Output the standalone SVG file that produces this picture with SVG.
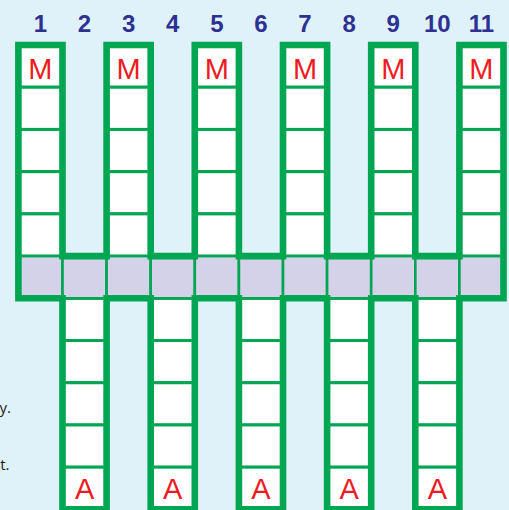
<svg xmlns="http://www.w3.org/2000/svg" width="509" height="510" viewBox="0 0 509 510">
<style>
.cell{fill:#ffffff;stroke:#00a651;stroke-width:3}
.mid{fill:#d3d2e8;stroke:#00a651;stroke-width:2.6}
.num{font-family:"Liberation Sans",Arial,sans-serif;font-weight:bold;font-size:24px;fill:#2e3192;text-anchor:middle}
.lab{font-family:"Liberation Sans",Arial,sans-serif;font-size:29px;fill:#ed1c24;text-anchor:middle}
.side{font-family:"Open Sans","Liberation Sans",sans-serif;font-size:15px;fill:#231f20;text-anchor:end}
.outline{fill:none;stroke:#00a651;stroke-width:6.6;stroke-linejoin:miter}
</style>
<rect x="0" y="0" width="509" height="510" fill="#dff1f9"/>
<text class="side" x="11" y="413">y.</text>
<text class="side" x="9.5" y="470">t.</text>
<g id="numbers">
<text class="num" x="40.45" y="31.5">1</text>
<text class="num" x="84.55" y="31.5">2</text>
<text class="num" x="128.65" y="31.5">3</text>
<text class="num" x="172.75" y="31.5">4</text>
<text class="num" x="216.85" y="31.5">5</text>
<text class="num" x="260.95" y="31.5">6</text>
<text class="num" x="305.05" y="31.5">7</text>
<text class="num" x="349.15" y="31.5">8</text>
<text class="num" x="393.25" y="31.5">9</text>
<text class="num" x="437.35" y="31.5">10</text>
<text class="num" x="481.45" y="31.5">11</text>
</g>
<defs>
<g id="up">
<rect class="cell" x="0" y="45" width="44.1" height="42.22"/>
<rect class="cell" x="0" y="87.22" width="44.1" height="42.22"/>
<rect class="cell" x="0" y="129.44" width="44.1" height="42.22"/>
<rect class="cell" x="0" y="171.66" width="44.1" height="42.22"/>
<rect class="cell" x="0" y="213.88" width="44.1" height="42.22"/>
</g>
<g id="down">
<rect class="cell" x="0" y="298.3" width="44.1" height="42.22"/>
<rect class="cell" x="0" y="340.52" width="44.1" height="42.22"/>
<rect class="cell" x="0" y="382.74" width="44.1" height="42.22"/>
<rect class="cell" x="0" y="424.96" width="44.1" height="42.22"/>
<rect class="cell" x="0" y="467.18" width="44.1" height="42.22"/>
</g>
<rect id="midcell" class="mid" x="0" y="256.1" width="44.1" height="42.2"/>
</defs>
<g id="col1"><use href="#up" x="18.4"/><use href="#midcell" x="18.4"/><text class="lab" x="40.45" y="79.3">M</text></g>
<g id="col2"><use href="#down" x="62.5"/><use href="#midcell" x="62.5"/><text class="lab" x="84.55" y="499">A</text></g>
<g id="col3"><use href="#up" x="106.6"/><use href="#midcell" x="106.6"/><text class="lab" x="128.65" y="79.3">M</text></g>
<g id="col4"><use href="#down" x="150.7"/><use href="#midcell" x="150.7"/><text class="lab" x="172.75" y="499">A</text></g>
<g id="col5"><use href="#up" x="194.8"/><use href="#midcell" x="194.8"/><text class="lab" x="216.85" y="79.3">M</text></g>
<g id="col6"><use href="#down" x="238.9"/><use href="#midcell" x="238.9"/><text class="lab" x="260.95" y="499">A</text></g>
<g id="col7"><use href="#up" x="283"/><use href="#midcell" x="283"/><text class="lab" x="305.05" y="79.3">M</text></g>
<g id="col8"><use href="#down" x="327.1"/><use href="#midcell" x="327.1"/><text class="lab" x="349.15" y="499">A</text></g>
<g id="col9"><use href="#up" x="371.2"/><use href="#midcell" x="371.2"/><text class="lab" x="393.25" y="79.3">M</text></g>
<g id="col10"><use href="#down" x="415.3"/><use href="#midcell" x="415.3"/><text class="lab" x="437.35" y="499">A</text></g>
<g id="col11"><use href="#up" x="459.4"/><use href="#midcell" x="459.4"/><text class="lab" x="481.45" y="79.3">M</text></g>
<g id="connectors">
<path class="outline" d="M18.4,45 H62.5 V256.1 H106.6 V45 H150.7 V256.1 H194.8 V45 H238.9 V256.1 H283 V45 H327.1 V256.1 H371.2 V45 H415.3 V256.1 H459.4 V45 H503.5 V298.3 H459.4 V509.4 H415.3 V298.3 H371.2 V509.4 H327.1 V298.3 H283 V509.4 H238.9 V298.3 H194.8 V509.4 H150.7 V298.3 H106.6 V509.4 H62.5 V298.3 H18.4 Z"/>
</g>
</svg>
